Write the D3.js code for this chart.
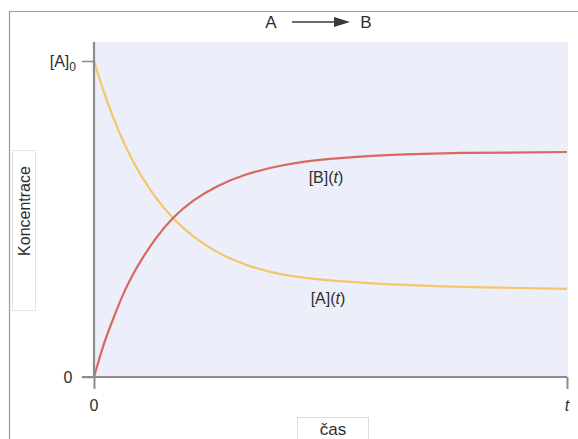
<!DOCTYPE html>
<html>
<head>
<meta charset="utf-8">
<script src="https://cdn.jsdelivr.net/npm/d3@7"></script>
<style>
  html, body { margin: 0; padding: 0; background: #ffffff; }
  svg { display: block; font-family: "Liberation Sans", Arial, sans-serif; }
</style>
</head>
<body>
<svg id="chart" width="578" height="439"></svg>
<script>
// Reaction A -> B: concentrations over time, relative to [A]0
const timeA = [0, 0.02, 0.04, 0.06, 0.08, 0.10, 0.13, 0.167, 0.21, 0.26, 0.32, 0.40, 0.50, 0.62, 0.78, 1.0];
const concA = [1.0, 0.906, 0.824, 0.752, 0.69, 0.637, 0.569, 0.503, 0.445, 0.396, 0.356, 0.324, 0.306, 0.294, 0.285, 0.279];

const timeB = [0, 0.02, 0.04, 0.06, 0.08, 0.10, 0.13, 0.167, 0.21, 0.26, 0.32, 0.40, 0.50, 0.62, 0.78, 1.0];
const concB = [0, 0.1, 0.182, 0.256, 0.318, 0.37, 0.437, 0.503, 0.558, 0.603, 0.64, 0.67, 0.69, 0.702, 0.709, 0.712];

const yTickValues = [0, 1];
const yTickLabels = ["0", "[A]0"];
const xTickValues = [0, 1];
const xTickLabels = ["0", "t"];

const svg = d3.select("#chart");

// outer frame
svg.append("path")
  .attr("d", "M9.5,445 V11.5 H590")
  .attr("fill", "none").attr("stroke", "#9a9a9a").attr("stroke-width", 1.2);

const x = d3.scaleLinear().domain([0, 1]).range([94, 567]);
const y = d3.scaleLinear().domain([0, 1]).range([377, 61]);

// plot background
svg.append("rect")
  .attr("x", x(0)).attr("y", 42)
  .attr("width", 568 - x(0)).attr("height", y(0) - 42)
  .attr("fill", "#eceef9");

// axis label boxes
svg.append("rect").attr("x", 12.5).attr("y", 150.5).attr("width", 23).attr("height", 160)
  .attr("fill", "#ffffff").attr("stroke", "#e4e4e4").attr("stroke-width", 1);
svg.append("rect").attr("x", 297.5).attr("y", 417.5).attr("width", 71).attr("height", 30)
  .attr("fill", "#ffffff").attr("stroke", "#dcdcdc").attr("stroke-width", 1);

// curves
const line = d3.line().curve(d3.curveNatural);
const ptsA = timeA.map((t, i) => [x(t), y(concA[i])]);
const ptsB = timeB.map((t, i) => [x(t), y(concB[i])]);

svg.append("path").attr("d", line(ptsA))
  .attr("fill", "none").attr("stroke", "#f6c56a").attr("stroke-width", 2.2);
svg.append("path").attr("d", line(ptsB))
  .attr("fill", "none").attr("stroke", "#d9685e").attr("stroke-width", 2.2);

// axes
const axisColor = "#8c8c8c";
const yAxis = d3.axisLeft(y).tickValues(yTickValues).tickSize(12).tickFormat("");
const gy = svg.append("g").attr("transform", `translate(${x(0)},0)`).call(yAxis);
gy.select(".domain").remove();
gy.selectAll("line").attr("stroke", axisColor).attr("stroke-width", 1.6);
svg.append("line").attr("x1", x(0)).attr("x2", x(0)).attr("y1", 42).attr("y2", y(0))
  .attr("stroke", axisColor).attr("stroke-width", 2.2);

const xAxis = d3.axisBottom(x).tickValues(xTickValues).tickSize(12).tickFormat("");
const gx = svg.append("g").attr("transform", `translate(0,${y(0)})`).call(xAxis);
gx.select(".domain").remove();
gx.selectAll("line").attr("stroke", axisColor).attr("stroke-width", 2);
svg.append("line").attr("x1", x(0) - 12).attr("x2", x(1)).attr("y1", y(0)).attr("y2", y(0))
  .attr("stroke", axisColor).attr("stroke-width", 2.2);

const textColor = "#2e2e2e";
// y tick labels
svg.append("text").attr("x", 68).attr("y", y(0)).attr("dy", "0.35em")
  .attr("text-anchor", "middle").attr("font-size", 16).attr("fill", textColor).text(yTickLabels[0]);
const a0 = svg.append("text").attr("x", 76).attr("y", y(1)).attr("dy", "0.35em")
  .attr("text-anchor", "end").attr("font-size", 16).attr("fill", textColor);
a0.append("tspan").text(yTickLabels[1].slice(0, 3));
a0.append("tspan").attr("font-size", 12).attr("dy", 4).text(yTickLabels[1].slice(3));

// x tick labels
svg.append("text").attr("x", x(0)).attr("y", 405).attr("dy", "0.35em")
  .attr("text-anchor", "middle").attr("font-size", 16).attr("fill", textColor).text(xTickLabels[0]);
svg.append("text").attr("x", x(1)).attr("y", 405).attr("dy", "0.35em")
  .attr("text-anchor", "middle").attr("font-size", 16).attr("font-style", "italic")
  .attr("fill", textColor).text(xTickLabels[1]);

// axis titles
svg.append("text").attr("x", 333).attr("y", 429).attr("dy", "0.35em")
  .attr("text-anchor", "middle").attr("font-size", 17).attr("fill", textColor).text("čas");
svg.append("text").attr("transform", "translate(24,211) rotate(-90)").attr("dy", "0.35em")
  .attr("text-anchor", "middle").attr("font-size", 16).attr("fill", textColor).text("Koncentrace");

// curve labels
function curveLabel(cx, cy, name) {
  const t = svg.append("text").attr("x", cx).attr("y", cy).attr("dy", "0.35em")
    .attr("text-anchor", "middle").attr("font-size", 16).attr("fill", textColor);
  t.append("tspan").text(`[${name}](`);
  t.append("tspan").attr("font-style", "italic").text("t");
  t.append("tspan").text(")");
}
curveLabel(326, 177, "B");
curveLabel(328, 298, "A");

// reaction scheme
svg.append("text").attr("x", 271).attr("y", 22).attr("dy", "0.35em")
  .attr("text-anchor", "middle").attr("font-size", 17).attr("fill", textColor).text("A");
svg.append("text").attr("x", 366).attr("y", 22).attr("dy", "0.35em")
  .attr("text-anchor", "middle").attr("font-size", 17).attr("fill", textColor).text("B");
svg.append("line").attr("x1", 292).attr("x2", 336).attr("y1", 22).attr("y2", 22)
  .attr("stroke", "#3a3a3a").attr("stroke-width", 1.6);
svg.append("path").attr("d", "M334,17 L350,22 L334,27 Z").attr("fill", "#3a3a3a");
</script>
</body>
</html>
